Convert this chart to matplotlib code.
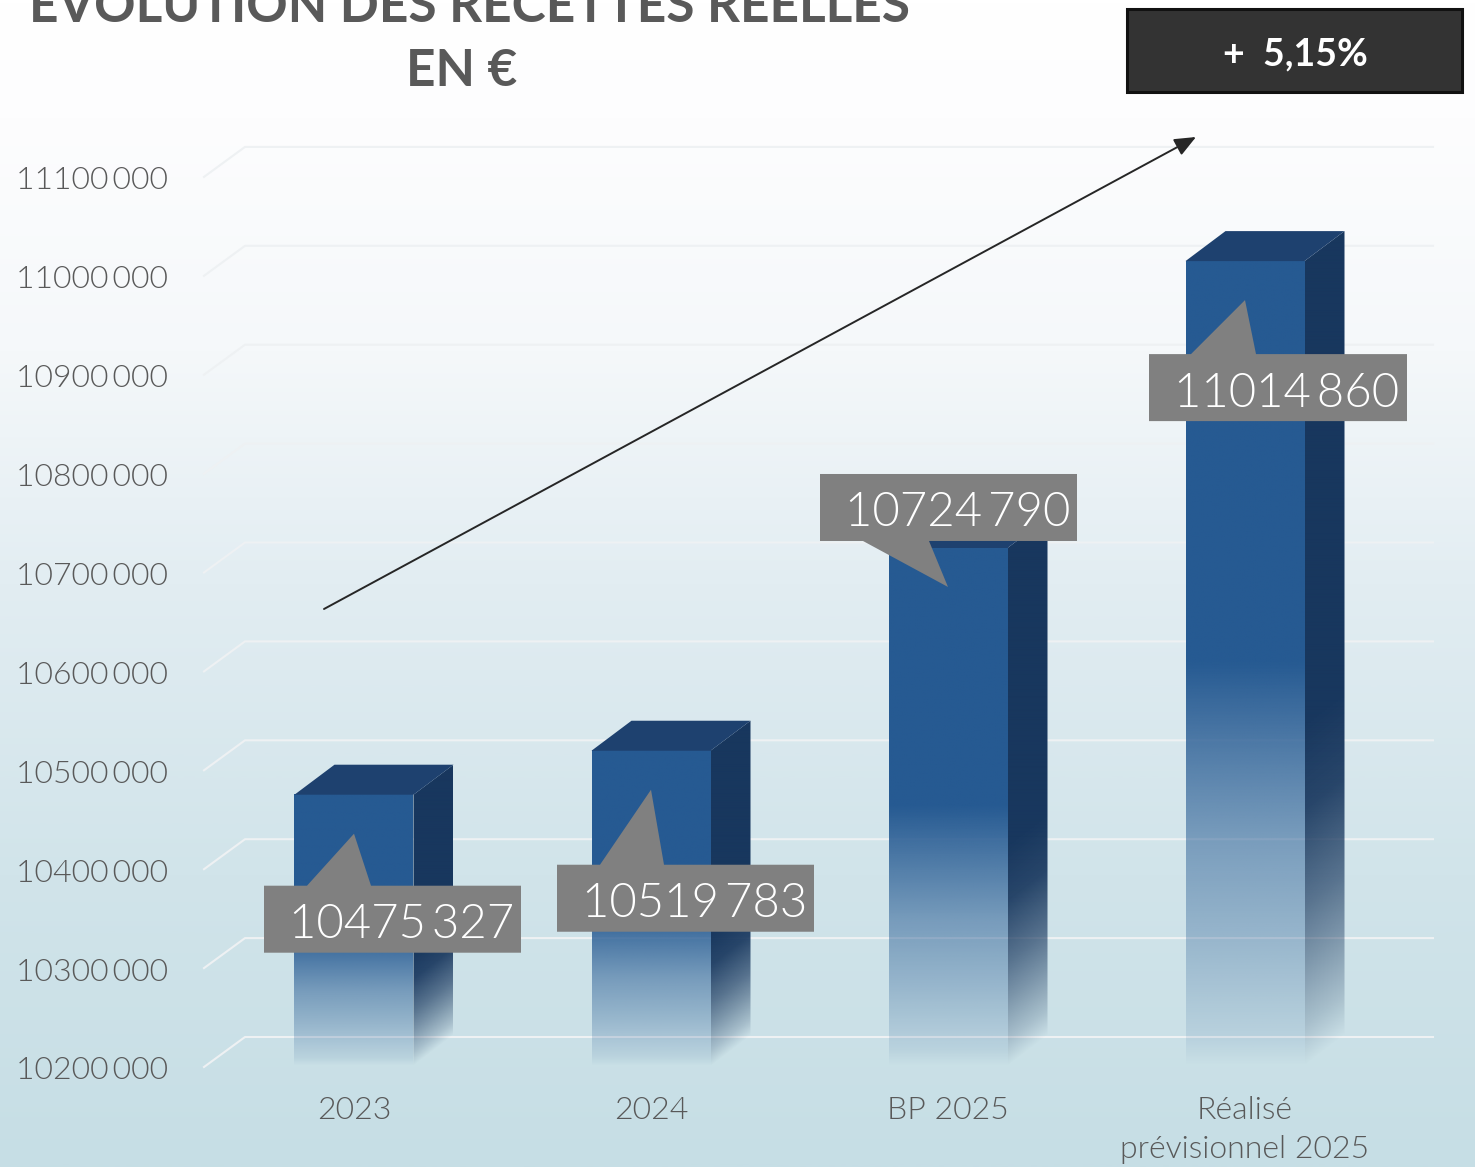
import numpy as np
import matplotlib
matplotlib.use('Agg')
import matplotlib.pyplot as plt
from matplotlib import font_manager as fm
from matplotlib.patches import Polygon, Rectangle
from matplotlib.colors import LinearSegmentedColormap, to_rgb

categories = ['2023', '2024', 'BP 2025', 'Réalisé\nprévisionnel 2025']
values = [10475327, 10519783, 10724790, 11014860]
value_labels = ['10475\u2009327', '10519\u2009783', '10724\u2009790', '11014\u2009860']
grid_values = [10200000, 10300000, 10400000, 10500000, 10600000,
               10700000, 10800000, 10900000, 11000000, 11100000]
grid_labels = ['10200\u2009000', '10300\u2009000', '10400\u2009000', '10500\u2009000', '10600\u2009000',
               '10700\u2009000', '10800\u2009000', '10900\u2009000', '11000\u2009000', '11100\u2009000']

# callout offsets from the pointer tip in pixels (left, right, edge with pointer, far edge, base0, base1)
callouts = [(-90, 167, 52, 119, -47, 17),
            (-94, 163, 75, 142, -51, 13),
            (-128, 129, -46, -113, -85, -19),
            (-96, 162, 54, 121, -54, 11)]

W, H = 1475, 1167
PX_CAT = 297.0
PX_VAL = 98.9 / 100000
FRONT = '#265a92'
TOP = '#1e416f'
SIDE = '#18375e'
TEXT = '#595959'
plt.rcParams['font.family'] = ['Lato', 'DejaVu Sans']

# 'light' on the family name lands on the hairline cut, so look for the real light file
light_files = [f.fname for f in fm.fontManager.ttflist
               if f.fname.endswith(('Lato-Light.ttf', 'Lato-Light.otf'))]
if light_files:
    light = dict(fontproperties=fm.FontProperties(fname=light_files[0]))
else:
    light = dict(fontweight='normal')


def dx(px):
    return px / PX_CAT


def dy(px):
    return px / PX_VAL


def front_alpha(f):
    return np.interp(f, [0, 0.5, 0.6, 0.72, 0.84, 0.97, 1], [1, 1, 0.78, 0.52, 0.33, 0.1, 0])


def side_alpha(f):
    return np.interp(f, [0, 0.58, 0.68, 0.8, 0.87, 0.95, 1], [1, 1, 0.92, 0.65, 0.45, 0.2, 0])


fig = plt.figure(figsize=(W / 100, H / 100), dpi=100)
ax = fig.add_axes([0, 0, 1, 1])
xlim = (-354 / PX_CAT, (W - 354) / PX_CAT)
ylim = (10200000 - dy(H - 1067), 10200000 + dy(1067))

# background
bg = LinearSegmentedColormap.from_list('bg', [(0, '#ffffff'), (0.1, '#fdfdfe'), (0.3, '#f5f8fa'),
                                              (0.5, '#e2edf2'), (0.75, '#d1e4ea'), (1, '#c6dee5')])
ax.imshow(np.linspace(0, 1, 512).reshape(-1, 1), cmap=bg, aspect='auto',
          extent=(xlim[0], xlim[1], ylim[0], ylim[1]), zorder=0)

# grid lines with the 3d corner
x0 = xlim[0] + dx(204)
x1 = xlim[0] + dx(245)
x2 = xlim[0] + dx(1433)
for v in grid_values:
    ax.plot([x0, x1, x2], [v, v + dy(30), v + dy(30)], color='#eef1f3', lw=1.5, zorder=1)

for v, lab in zip(grid_values, grid_labels):
    ax.text(xlim[0] + dx(168), v - dy(-3) - dy(5) - dy(2), lab, ha='right', va='center', fontsize=23, color=TEXT, **light)

# bars
half = dx(59.5)
dep_x = dx(40)
dep_y = dy(30)
base = 10200000 + dy(1)
for i, v in enumerate(values):
    l, r = i - half, i + half
    # front
    img = np.zeros((400, 1, 4))
    img[:, :, :3] = to_rgb(FRONT)
    img[:, 0, 3] = front_alpha(np.linspace(0, 1, 400))
    ax.imshow(img, extent=(l, r, base, v), origin='upper', aspect='auto', zorder=2,
              interpolation='bilinear')
    # side, fade sheared along the depth
    yy = np.linspace(v + dep_y, base, 400)
    gx, gy = np.meshgrid(np.linspace(0, 1, 40), yy)
    img = np.zeros((400, 40, 4))
    img[:, :, :3] = to_rgb(SIDE)
    img[:, :, 3] = side_alpha(np.clip((v - (gy - gx * dep_y)) / (v - base), 0, 1))
    im = ax.imshow(img, extent=(r, r + dep_x, base, v + dep_y), origin='upper', aspect='auto',
                   zorder=2, interpolation='bilinear')
    clip = Polygon([(r, v), (r + dep_x, v + dep_y), (r + dep_x, base + dep_y), (r, base)],
                   transform=ax.transData, fill=False, edgecolor='none')
    ax.add_patch(clip)
    im.set_clip_path(clip)
    # top
    ax.add_patch(Polygon([(l, v), (l + dep_x, v + dep_y), (r + dep_x, v + dep_y), (r, v)],
                         facecolor=TOP, edgecolor='none', zorder=2))
    label_y = 1130 if '\n' in categories[i] else 1111
    ax.text(i, ylim[1] - dy(label_y), categories[i], ha='center', va='center', fontsize=23,
            color=TEXT, linespacing=1.45, **light)

# value callouts
for i, v in enumerate(values):
    tip_y = v - dy(39)
    a, b, near, far, b0, b1 = callouts[i]
    ny, fy = tip_y - dy(near), tip_y - dy(far)
    pts = [(i + dx(a), ny), (i + dx(b0), ny), (i, tip_y), (i + dx(b1), ny), (i + dx(b), ny),
           (i + dx(b), fy), (i + dx(a), fy)]
    ax.add_patch(Polygon(pts, facecolor='#808080', edgecolor='none', zorder=3))
    ax.text(i + dx((a + b) / 2 + 9), (ny + fy) / 2 - dy(6), value_labels[i], ha='center', va='center',
            fontsize=34, color='white', zorder=4, **light)

# trend arrow
ax.annotate('', xy=(xlim[0] + dx(1196), ylim[1] - dy(137)), xytext=(xlim[0] + dx(324), ylim[1] - dy(609)),
            arrowprops=dict(arrowstyle='-|>,head_length=1.3,head_width=0.55', color='#262626', lw=1.4,
                            shrinkA=0, shrinkB=0), zorder=5)

# title, first line runs off the top of the slide as in the original
ax.text(xlim[0] + dx(470), ylim[1] - dy(8), 'EVOLUTION DES RECETTES REELLES', ha='center', va='center',
        fontsize=37, fontweight='bold', color=TEXT)
ax.text(xlim[0] + dx(462), ylim[1] - dy(72), 'EN €', ha='center', va='center',
        fontsize=37, fontweight='bold', color=TEXT)

# percentage box
ax.add_patch(Rectangle((xlim[0] + dx(1127), ylim[1] - dy(92)), dx(335), dy(83), facecolor='#333333',
                       edgecolor='#111111', lw=2.2, zorder=5))
ax.text(xlim[0] + dx(1295), ylim[1] - dy(54), '+  5,15%', ha='center', va='center', fontsize=27,
        fontweight='bold', color='white', zorder=6)

ax.set_xlim(xlim)
ax.set_ylim(ylim)
ax.axis('off')
fig.savefig('out.png', dpi=100)
